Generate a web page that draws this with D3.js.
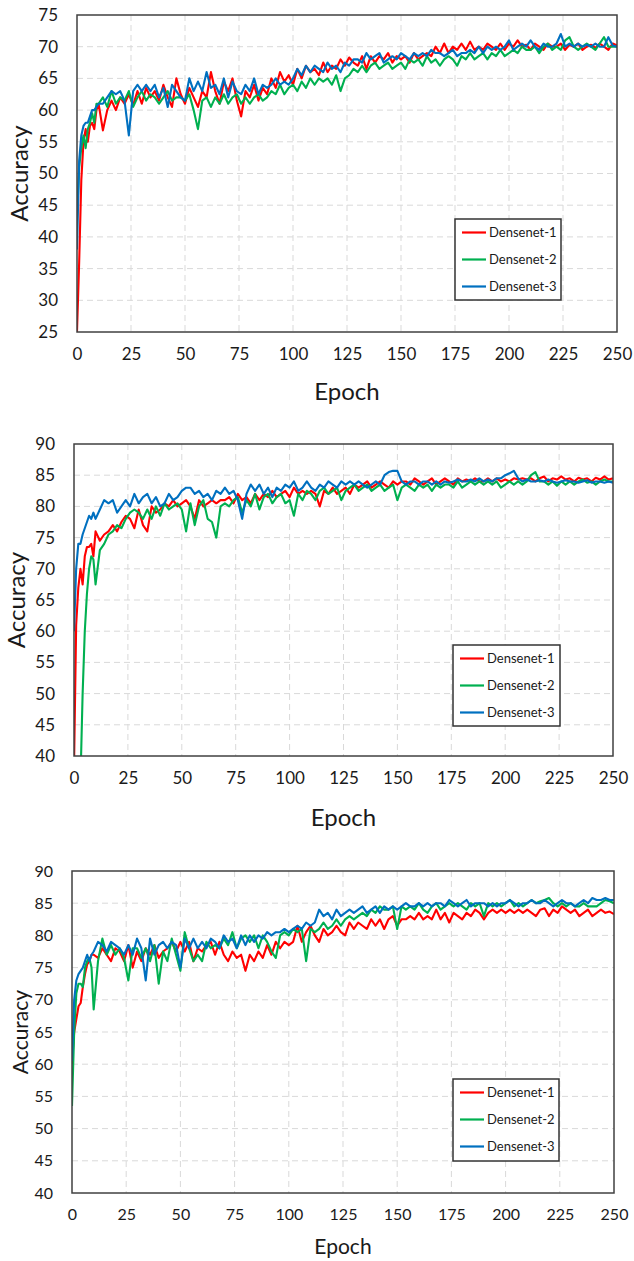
<!DOCTYPE html>
<html>
<head>
<meta charset="utf-8">
<script src="https://cdn.jsdelivr.net/npm/d3@7"></script>
<style>
  html, body { margin: 0; padding: 0; background: #fff; }
  svg { display: block; }
</style>
</head>
<body>
<div id="chart"></div>
<script>
// Accuracy vs epoch, three Densenet variants, three stacked panels

const epochs = [0, 1, 2, 3, 4, 5, 6, 7, 8, 9,
  10, 12, 14, 16, 18, 20, 22, 24, 26, 28,
  30, 32, 34, 36, 38, 40, 42, 44, 46, 48,
  50, 52, 54, 56, 58, 60, 62, 64, 66, 68,
  70, 72, 74, 76, 78, 80, 82, 84, 86, 88,
  90, 92, 94, 96, 98, 100, 102, 104, 106, 108,
  110, 112, 114, 116, 118, 120, 122, 124, 126, 128,
  130, 132, 134, 136, 138, 140, 142, 144, 146, 148,
  150, 152, 154, 156, 158, 160, 162, 164, 166, 168,
  170, 172, 174, 176, 178, 180, 182, 184, 186, 188,
  190, 192, 194, 196, 198, 200, 202, 204, 206, 208,
  210, 212, 214, 216, 218, 220, 222, 224, 226, 228,
  230, 232, 234, 236, 238, 240, 242, 244, 246, 248,
  250];

const seriesNames = ['Densenet-1', 'Densenet-2', 'Densenet-3'];
const seriesColors = ['#ff0000', '#00b050', '#0070c0'];
const xTicks = [0, 25, 50, 75, 100, 125, 150, 175, 200, 225, 250];
const yTicksTop = [25, 30, 35, 40, 45, 50, 55, 60, 65, 70, 75];
const yTicksLower = [40, 45, 50, 55, 60, 65, 70, 75, 80, 85, 90];

// panel 1
const p1Dense1 = [25, 36, 49, 55, 57, 55, 57.5, 58, 57, 60,
  61, 56.8, 60, 61.5, 60, 62, 61, 62.5, 60.8, 63,
  61, 63.5, 62, 63, 61.5, 64, 62, 60.5, 65, 62.5,
  61, 63.5, 62, 60.5, 63, 62, 66, 63, 61, 64.5,
  63, 65, 61.5, 59, 63, 62, 64, 61.5, 63.5, 62.5,
  65, 63.5, 66, 64.5, 65.5, 64, 66.5, 65, 67, 66,
  66.5, 65.5, 67.5, 66, 67, 66.5, 68, 67, 68.3, 67.5,
  67, 68.5, 66.5, 68.5, 67.5, 68.5, 68, 69, 67.5, 68.5,
  68, 68.5, 67.5, 69, 68, 68.5, 69, 68.5, 70, 69,
  70.5, 69, 70, 69.5, 70.5, 69.5, 70.8, 69.5, 70, 69.5,
  70.5, 70, 69.5, 70.5, 69.5, 70.5, 70, 71, 70, 70.3,
  69.5, 70.5, 70, 69.5, 70.5, 70, 70, 70.5, 69.5, 70.3,
  70, 70.5, 69.5, 70, 70.3, 69.8, 70.5, 70, 69.5, 70.5,
  70.2];
const p1Dense2 = [43, 51, 54, 56, 54, 57, 58, 59.5, 58, 61,
  61, 62, 60.5, 63, 61, 62, 61.5, 63, 60.5, 62,
  63, 61.5, 62.5, 62, 61, 62, 63, 61.5, 62, 62,
  61.5, 62.5, 60, 57, 61.5, 62, 60.5, 62, 61, 62.5,
  61, 62, 62.5, 61, 62, 61, 62, 62.5, 61.5, 62,
  63, 62.5, 64, 62.5, 63.5, 64, 63, 64.5, 63.5, 65,
  64, 65, 64.5, 65, 64, 65.5, 63, 65, 65.5, 66.5,
  66, 67, 66, 67, 67.5, 66.5, 67, 67.5, 66.5, 67,
  67.5, 66.5, 68, 67.5, 68, 67, 68.5, 67.5, 68, 67,
  68, 68.5, 68, 67, 68.5, 68, 69, 68, 68.5, 69,
  68, 69, 68.5, 69.5, 68.5, 69, 69.5, 69, 70, 69.5,
  69.5, 70, 69, 70, 70.5, 69.5, 70, 69.5, 71, 71.5,
  70, 69.5, 70, 70.5, 70, 69.5, 70.5, 71.5, 70, 70,
  70];
const p1Dense3 = [38, 52, 56, 57.5, 58, 58, 59, 60, 60, 60.5,
  61, 61, 62, 63, 62.5, 63, 61.5, 56, 63, 64,
  63, 64, 63, 64, 62, 63.5, 60.5, 64, 63, 62,
  61.5, 65, 63, 64.5, 63, 66, 63.5, 64, 62.5, 65,
  62, 64.5, 63, 62.5, 64, 63, 65, 62.5, 64, 63.5,
  64, 65, 64, 64.5, 64, 65, 66.5, 65.5, 67, 66,
  67, 66.5, 66, 67.5, 66.5, 67, 66, 67.5, 67, 68,
  68, 67.5, 69, 68, 68.5, 69, 67.5, 68, 68.5, 68,
  69, 68.5, 68, 69, 68.5, 69, 68.5, 69.5, 69, 69,
  68.5, 69, 69.5, 68.5, 69, 69, 69.5, 69, 70, 69,
  70, 69.5, 70, 69.5, 70, 71, 69.5, 70, 70.5, 70,
  71, 70, 69.5, 70.5, 70, 70, 70.5, 72, 70, 70.5,
  70, 70.5, 70, 70.3, 70, 70.5, 70, 70, 71.5, 70.2,
  70];

// panel 2
const p2Dense1 = [38, 61, 67, 70, 67.5, 72, 73.5, 73.5, 74, 72,
  76, 74.5, 75.5, 76, 77, 76, 77.5, 78.5, 78, 76.5,
  79.5, 77, 76, 80, 79, 79.5, 80.5, 80, 81, 80,
  80.5, 81, 80, 78, 81, 80, 80.5, 81, 80.5, 81,
  81, 81.5, 80.5, 82, 81, 81.5, 80.5, 82, 81, 82,
  81.5, 82.5, 81.5, 82, 82.5, 81.5, 83, 82, 82.5, 82,
  82.5, 82, 80, 82.5, 82, 83, 82, 82.5, 83, 82,
  83.5, 83, 83.5, 84, 83, 83.5, 84, 83.5, 83, 84,
  83.5, 84, 84, 83.5, 84.5, 84, 83.5, 84, 84.5, 83.5,
  84, 84.5, 84, 83.5, 84.5, 84, 84.3, 84, 84.5, 84,
  84, 84.5, 84, 84.5, 84, 84.3, 84, 84.5, 84.3, 84.5,
  84.3, 84.5, 84, 84.5, 84.8, 84, 84.5, 84.3, 84.8, 84.3,
  84.5, 84, 84.6, 84.3, 84.5, 84, 84.6, 84.3, 84.8, 84.3,
  84.5];
const p2Dense2 = [20, 25, 30, 36, 50, 60, 66, 70, 72, 71.5,
  67.5, 73, 74, 75.5, 76, 77, 76.5, 78, 79, 79.5,
  79, 78, 79.5, 78, 80, 78.5, 80.5, 79.5, 80, 80.5,
  79.5, 76, 80.5, 77, 80, 81, 78, 77.5, 75, 80,
  80.5, 80, 81, 81.5, 79, 81, 80, 82, 79.5, 81.5,
  82, 80.5, 81.5, 82, 80.5, 81, 78.5, 82, 81, 82.5,
  82, 81, 82.5, 83, 82, 82.5, 83, 81, 82.5, 83,
  83.5, 82.5, 83, 83.5, 82.5, 83, 83.5, 82.5, 83, 83.5,
  81, 83, 83.5, 83, 82.5, 83.5, 83, 83.5, 82.5, 83.5,
  83, 83.5, 83.5, 83, 84, 83, 83.5, 84, 83.5, 84,
  83.5, 84, 83.5, 84, 83, 83.5, 84, 83.5, 84, 83.5,
  84, 85, 85.5, 84, 84, 83.5, 84, 83.3, 84, 83.5,
  84, 83.5, 84, 84.3, 83.8, 84, 83.5, 84, 84.3, 84,
  84];
const p2Dense3 = [60, 70, 74, 74, 75.5, 76.5, 77.5, 78.5, 78, 79,
  78, 79.5, 81, 80.5, 81, 79, 80, 81, 80, 82,
  80.5, 81.5, 82, 80.5, 81.5, 80, 80.5, 82, 81, 81.5,
  82.5, 83, 83, 82, 82.5, 81.5, 82, 81, 82.5, 82,
  83, 82, 82.5, 81, 78, 82, 83.5, 82.5, 83.5, 82,
  83, 81.5, 83, 82.5, 83.5, 83, 84, 82.5, 83, 84,
  83, 82.5, 83.5, 83, 84, 83.5, 83, 84, 83.5, 84,
  83.5, 84, 83.5, 83, 83.5, 84, 83.5, 85, 85.5, 85.7,
  85.7, 84, 83.5, 84, 84, 83.5, 84, 84, 83.5, 84,
  83.5, 84, 83.8, 84, 84.3, 84, 84, 84.3, 84, 84.5,
  84, 84.3, 84, 84.5, 84.5, 85, 85.3, 85.7, 84.5, 84,
  84.3, 84, 84, 84.2, 84, 84.3, 84, 83.8, 84, 84.2,
  84, 84, 83.8, 84, 84.2, 83.8, 84, 84, 83.8, 84,
  83.8];

// panel 3
const p3Dense1 = [60, 65, 67, 69, 69.5, 72, 74, 75.5, 76, 77,
  77, 76.5, 78, 77, 76, 78, 77.5, 76, 78.5, 75,
  77.5, 76, 78, 77, 78.5, 76.5, 77.5, 78, 79, 77.5,
  79, 77.5, 79, 76, 78, 77.5, 78.5, 79, 77, 79,
  77, 76, 77.5, 76.5, 77, 74.5, 77, 76, 77.5, 76.5,
  78.5, 77, 79, 78, 79, 78.5, 79, 81.5, 79, 80.5,
  81.5, 80, 79, 81, 80, 80.5, 81.5, 80.5, 80, 82,
  81, 82, 81.5, 81, 82.5, 81.5, 82.5, 81, 82.5, 83,
  81.5, 82.5, 82.5, 83, 82.5, 83.5, 82.5, 83, 82.5, 84,
  82.5, 83.5, 82, 83.5, 83, 82.5, 83.5, 83, 84, 83.5,
  82.5, 83.5, 84, 83.5, 84, 83.5, 84, 83.5, 84, 83.5,
  84, 83.5, 83, 84, 84.2, 83, 84, 83.5, 84.5, 84,
  83.5, 84, 83, 83.5, 84, 83, 83.5, 84, 83.5, 83.7,
  83.3];
const p3Dense2 = [53.5, 65, 71, 72.5, 72.5, 72, 75, 76, 76.5, 75,
  68.5, 76, 79.5, 77, 78.5, 77, 78, 76.5, 73, 78,
  78, 76.5, 78, 76, 78.5, 72.5, 77.5, 76, 79.5, 77,
  74.5, 80.5, 78, 76, 77, 76, 79, 78, 78.5, 78,
  79.5, 78.5, 80.5, 78, 79.5, 80, 79, 80, 78, 80,
  79, 77.5, 76.5, 80, 80.5, 80, 81, 80.5, 81, 76,
  81, 80.5, 81, 82, 81, 81.5, 82.5, 81.5, 82.5, 83,
  82.5, 83, 83.5, 83, 84, 83.5, 84.5, 84, 84, 84.5,
  81, 84.5, 84, 84.5, 84, 85, 84, 83.5, 84.5, 85,
  84, 84.5, 85, 84.5, 85, 84.5, 84, 85, 84.5, 85,
  83, 85, 84.5, 85, 84.5, 85, 85.5, 84.5, 85, 84.5,
  85, 85.5, 85, 85.3, 85.5, 85.8, 85, 84.5, 85, 84.5,
  85, 84.5, 84.5, 85, 84.5, 84.5, 84.5, 85, 85.5, 85.3,
  85];
const p3Dense3 = [60.5, 70, 73, 74, 74.5, 75, 76, 77, 76, 77,
  77.5, 79, 78.5, 77.5, 79, 78.5, 78, 77, 78.5, 77,
  79.5, 78, 73, 79.5, 77, 78.5, 79, 78, 79, 78.5,
  75, 79.5, 78, 79.5, 78, 79, 78, 79.5, 79, 78,
  80, 79, 79.5, 78, 80, 78.5, 80, 79, 80, 79.5,
  80.5, 80, 80.5, 80.5, 81, 80.5, 81, 81.5, 81, 82,
  81.5, 82, 84, 83, 83.5, 82.5, 84, 83, 83.5, 84,
  83.5, 84, 84.5, 83.5, 84, 84.5, 83.5, 84.5, 84, 84.5,
  84, 84.5, 85, 84.5, 84.5, 85, 84.5, 85, 84.5, 85,
  85, 84.5, 85.5, 85, 84.5, 85, 85.5, 84.5, 85, 85,
  85, 84.5, 85, 84.5, 85, 85, 85.5, 85, 84.5, 85,
  85, 85.5, 85, 85, 85.5, 85, 84.5, 85, 85.5, 85,
  85, 84.5, 85, 85.5, 85, 85.8, 85.5, 85.5, 85.8, 85.5,
  85.5];

// layout of each panel (pixel boxes measured off the page)
const panels = [
  { box: { l: 77, r: 617, t: 15, b: 332 }, yTicks: yTicksTop, series: [p1Dense1, p1Dense2, p1Dense3],
    legend: { x: 455, y: 219, w: 106, h: 81 }, titleSize: 24, tickSize: 17, accX: 20, epochY: 400 },
  { box: { l: 74, r: 613, t: 444, b: 756 }, yTicks: yTicksLower, series: [p2Dense1, p2Dense2, p2Dense3],
    legend: { x: 453, y: 645, w: 107, h: 81 }, titleSize: 24, tickSize: 17, accX: 17, epochY: 826 },
  { box: { l: 72, r: 614, t: 871, b: 1193 }, yTicks: yTicksLower, series: [p3Dense1, p3Dense2, p3Dense3],
    legend: { x: 453, y: 1079, w: 106, h: 82 }, titleSize: 21, tickSize: 16, accX: 21, epochY: 1254 },
];

const FONT = 'Lato, "Open Sans", sans-serif';

const svg = d3.select('#chart').append('svg')
  .attr('width', 634)
  .attr('height', 1261)
  .style('background', '#fff');

panels.forEach((p, pi) => {
  const { l, r, t, b } = p.box;
  const yMin = p.yTicks[0], yMax = p.yTicks[p.yTicks.length - 1];
  const x = d3.scaleLinear().domain([0, 250]).range([l, r]);
  const y = d3.scaleLinear().domain([yMin, yMax]).range([b, t]);
  const g = svg.append('g');

  // clip so lines that start below the axis minimum stay inside
  g.append('clipPath').attr('id', 'clip' + pi)
    .append('rect').attr('x', l).attr('y', t).attr('width', r - l).attr('height', b - t);

  // dashed grid
  g.append('g').selectAll('line')
    .data(xTicks.slice(1, -1)).join('line')
    .attr('x1', d => x(d)).attr('x2', d => x(d))
    .attr('y1', t).attr('y2', b)
    .attr('stroke', '#d9d9d9').attr('stroke-width', 1).attr('stroke-dasharray', '6,4');
  g.append('g').selectAll('line')
    .data(p.yTicks.slice(1, -1)).join('line')
    .attr('y1', d => y(d)).attr('y2', d => y(d))
    .attr('x1', l).attr('x2', r)
    .attr('stroke', '#d9d9d9').attr('stroke-width', 1).attr('stroke-dasharray', '6,4');

  // axes (labels only, frame drawn separately)
  const yAxis = g.append('g')
    .attr('transform', `translate(${l},0)`)
    .call(d3.axisLeft(y).tickValues(p.yTicks).tickSize(0).tickPadding(19));
  const xAxis = g.append('g')
    .attr('transform', `translate(0,${b})`)
    .call(d3.axisBottom(x).tickValues(xTicks).tickSize(0).tickPadding(16));
  [yAxis, xAxis].forEach(a => {
    a.select('.domain').remove();
    a.selectAll('text')
      .attr('font-family', FONT)
      .attr('font-size', p.tickSize)
      .attr('fill', '#1a1a1a');
  });

  // series lines
  const line = d3.line()
    .x((d, i) => x(epochs[i]))
    .y(d => y(d));
  g.append('g').attr('clip-path', `url(#clip${pi})`)
    .selectAll('path')
    .data(p.series).join('path')
    .attr('d', d => line(d))
    .attr('fill', 'none')
    .attr('stroke', (d, i) => seriesColors[i])
    .attr('stroke-width', 2.1)
    .attr('stroke-linejoin', 'round');

  // frame
  g.append('rect')
    .attr('x', l).attr('y', t)
    .attr('width', r - l).attr('height', b - t)
    .attr('fill', 'none')
    .attr('stroke', '#404040')
    .attr('stroke-width', 1.5);

  // axis titles
  g.append('text')
    .attr('x', (l + r) / 2).attr('y', p.epochY)
    .attr('text-anchor', 'middle')
    .attr('font-family', FONT).attr('font-size', p.titleSize)
    .attr('fill', '#1a1a1a')
    .text('Epoch');
  g.append('text')
    .attr('transform', `translate(${p.accX},${(t + b) / 2}) rotate(-90)`)
    .attr('text-anchor', 'middle')
    .attr('dy', '0.35em')
    .attr('font-family', FONT).attr('font-size', p.titleSize)
    .attr('fill', '#1a1a1a')
    .text('Accuracy');

  // legend
  const lg = g.append('g').attr('transform', `translate(${p.legend.x},${p.legend.y})`);
  lg.append('rect')
    .attr('width', p.legend.w).attr('height', p.legend.h)
    .attr('fill', '#fff')
    .attr('stroke', '#333')
    .attr('stroke-width', 1.5);
  const rows = lg.selectAll('g.row')
    .data(seriesNames).join('g')
    .attr('class', 'row')
    .attr('transform', (d, i) => `translate(0,${13.5 + i * 27})`);
  rows.append('line')
    .attr('x1', 7).attr('x2', 31)
    .attr('stroke', (d, i) => seriesColors[i])
    .attr('stroke-width', 2.2);
  rows.append('text')
    .attr('x', 34)
    .attr('dy', '0.35em')
    .attr('font-family', FONT).attr('font-size', 13)
    .attr('fill', '#1a1a1a')
    .text(d => d);
});
</script>
</body>
</html>
